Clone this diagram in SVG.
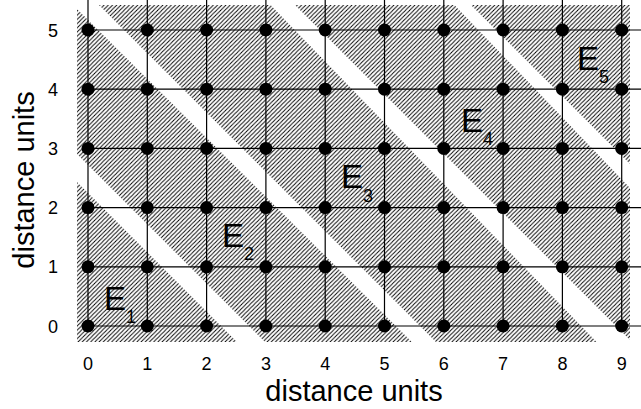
<svg xmlns="http://www.w3.org/2000/svg" width="641" height="409" viewBox="0 0 641 409">
<style>
.grid{stroke:#000;stroke-width:1.2;fill:none}
.dot{fill:#000}
.tick{font-family:"Liberation Sans",Arial,sans-serif;font-size:18px;fill:#000;text-anchor:middle}
.axis{font-family:"Liberation Sans",Arial,sans-serif;font-size:29px;fill:#000;text-anchor:middle}
.lab{font-family:"Liberation Sans",Arial,sans-serif;font-size:33px;fill:#000}
.sub{font-size:18px}
.band{fill:url(#hatch)}
</style>
<defs>
<pattern id="hatch" patternUnits="userSpaceOnUse" width="4.2" height="4.2">
<path d="M-1,1 L1,-1 M0,4.2 L4.2,0 M3.2,5.2 L5.2,3.2" stroke="#000" stroke-width="0.95"/>
</pattern>
<clipPath id="area"><rect x="77" y="5" width="553" height="337"/></clipPath>
</defs>
<rect width="641" height="409" fill="#fff"/>
<g id="bands" clip-path="url(#area)">
<polygon id="E1band" class="band" points="-1010,-10 -115,-10 255,360 -640,360"/>
<polygon id="E2band" class="band" points="-87,-10 58,-10 430,360 283,360"/>
<polygon id="E3band" class="band" points="84,-10 256,-10 614,360 454,360"/>
<polygon id="E4band" class="band" points="280,-10 440,-10 795,360 650,360"/>
<polygon id="E5band" class="band" points="456,-10 1990,-10 2360,360 826,360"/>
</g>
<g id="connectors" class="grid">
<path d="M88,0V326 M147.3,0V326 M206.6,0V326 M265.9,0V326 M325.2,0V326 M384.5,0V326 M443.8,0V326 M503.1,0V326 M562.4,0V326 M621.7,0V326"/>
<path d="M88,326H641 M88,266.8H641 M88,207.6H641 M88,148.4H641 M88,89.2H641 M88,30H641"/>
</g>
<g id="dots" class="dot">
<g id="row0"><circle cx="88" cy="326" r="6.5"/><circle cx="147.3" cy="326" r="6.5"/><circle cx="206.6" cy="326" r="6.5"/><circle cx="265.9" cy="326" r="6.5"/><circle cx="325.2" cy="326" r="6.5"/><circle cx="384.5" cy="326" r="6.5"/><circle cx="443.8" cy="326" r="6.5"/><circle cx="503.1" cy="326" r="6.5"/><circle cx="562.4" cy="326" r="6.5"/><circle cx="621.7" cy="326" r="6.5"/></g>
<g id="row1"><circle cx="88" cy="266.8" r="6.5"/><circle cx="147.3" cy="266.8" r="6.5"/><circle cx="206.6" cy="266.8" r="6.5"/><circle cx="265.9" cy="266.8" r="6.5"/><circle cx="325.2" cy="266.8" r="6.5"/><circle cx="384.5" cy="266.8" r="6.5"/><circle cx="443.8" cy="266.8" r="6.5"/><circle cx="503.1" cy="266.8" r="6.5"/><circle cx="562.4" cy="266.8" r="6.5"/><circle cx="621.7" cy="266.8" r="6.5"/></g>
<g id="row2"><circle cx="88" cy="207.6" r="6.5"/><circle cx="147.3" cy="207.6" r="6.5"/><circle cx="206.6" cy="207.6" r="6.5"/><circle cx="265.9" cy="207.6" r="6.5"/><circle cx="325.2" cy="207.6" r="6.5"/><circle cx="384.5" cy="207.6" r="6.5"/><circle cx="443.8" cy="207.6" r="6.5"/><circle cx="503.1" cy="207.6" r="6.5"/><circle cx="562.4" cy="207.6" r="6.5"/><circle cx="621.7" cy="207.6" r="6.5"/></g>
<g id="row3"><circle cx="88" cy="148.4" r="6.5"/><circle cx="147.3" cy="148.4" r="6.5"/><circle cx="206.6" cy="148.4" r="6.5"/><circle cx="265.9" cy="148.4" r="6.5"/><circle cx="325.2" cy="148.4" r="6.5"/><circle cx="384.5" cy="148.4" r="6.5"/><circle cx="443.8" cy="148.4" r="6.5"/><circle cx="503.1" cy="148.4" r="6.5"/><circle cx="562.4" cy="148.4" r="6.5"/><circle cx="621.7" cy="148.4" r="6.5"/></g>
<g id="row4"><circle cx="88" cy="89.2" r="6.5"/><circle cx="147.3" cy="89.2" r="6.5"/><circle cx="206.6" cy="89.2" r="6.5"/><circle cx="265.9" cy="89.2" r="6.5"/><circle cx="325.2" cy="89.2" r="6.5"/><circle cx="384.5" cy="89.2" r="6.5"/><circle cx="443.8" cy="89.2" r="6.5"/><circle cx="503.1" cy="89.2" r="6.5"/><circle cx="562.4" cy="89.2" r="6.5"/><circle cx="621.7" cy="89.2" r="6.5"/></g>
<g id="row5"><circle cx="88" cy="30" r="6.5"/><circle cx="147.3" cy="30" r="6.5"/><circle cx="206.6" cy="30" r="6.5"/><circle cx="265.9" cy="30" r="6.5"/><circle cx="325.2" cy="30" r="6.5"/><circle cx="384.5" cy="30" r="6.5"/><circle cx="443.8" cy="30" r="6.5"/><circle cx="503.1" cy="30" r="6.5"/><circle cx="562.4" cy="30" r="6.5"/><circle cx="621.7" cy="30" r="6.5"/></g>
</g>
<g id="xticks" class="tick">
<text x="88" y="370">0</text><text x="147.3" y="370">1</text><text x="206.6" y="370">2</text><text x="265.9" y="370">3</text><text x="325.2" y="370">4</text><text x="384.5" y="370">5</text><text x="443.8" y="370">6</text><text x="503.1" y="370">7</text><text x="562.4" y="370">8</text><text x="621.7" y="370">9</text>
</g>
<g id="yticks" class="tick">
<text x="53" y="332.5">0</text><text x="53" y="273.3">1</text><text x="53" y="214.1">2</text><text x="53" y="154.9">3</text><text x="53" y="95.7">4</text><text x="53" y="36.5">5</text>
</g>
<text id="xlabel" class="axis" x="354" y="401">distance units</text>
<text id="ylabel" class="axis" transform="translate(34,180) rotate(-90)">distance units</text>
<g id="labels" class="lab">
<text id="E1" x="104" y="310">E<tspan class="sub" dy="13">1</tspan></text>
<text id="E2" x="222" y="247">E<tspan class="sub" dy="13">2</tspan></text>
<text id="E3" x="341" y="188">E<tspan class="sub" dy="14">3</tspan></text>
<text id="E4" x="461" y="132">E<tspan class="sub" dy="13">4</tspan></text>
<text id="E5" x="577" y="70">E<tspan class="sub" dy="13">5</tspan></text>
</g>
</svg>
